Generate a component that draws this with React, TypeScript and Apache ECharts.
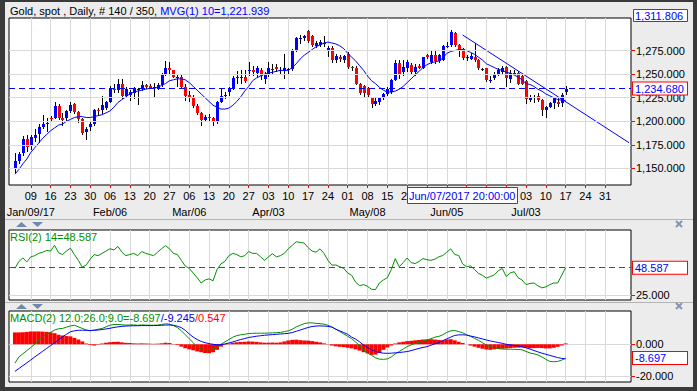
import React, { useEffect, useRef } from 'react';
import * as echarts from 'echarts';

const FONT = '"Liberation Sans", Arial, Helvetica, sans-serif';

// ---- daily gold spot bars (Jan 3 2017 .. Jul 17 2017) ----
const opens = [
  1151, 1158, 1166, 1181, 1174, 1182, 1187, 1194, 1197, 1204,
  1203, 1216, 1204, 1204, 1211, 1218, 1210, 1202, 1189, 1194,
  1197, 1212, 1212, 1214, 1220, 1234, 1233, 1240, 1227, 1228,
  1230, 1234, 1234, 1239, 1237, 1236, 1234, 1238, 1250, 1257,
  1254, 1247, 1247, 1236, 1228, 1226, 1216, 1209, 1201, 1205,
  1203, 1200, 1221, 1227, 1231, 1235, 1246, 1247, 1247, 1254,
  1254, 1251, 1254, 1245, 1249, 1255, 1258, 1254, 1253, 1255,
  1255, 1276, 1288, 1288, 1296, 1290, 1280, 1281, 1282, 1275,
  1278, 1265, 1268, 1265, 1271, 1258, 1257, 1240, 1237, 1235,
  1225, 1218, 1220, 1225, 1229, 1231, 1244, 1262, 1252, 1256,
  1260, 1252, 1259, 1257, 1270, 1263, 1270, 1264, 1265, 1280,
  1281, 1294, 1281, 1277, 1268, 1266, 1268, 1265, 1255, 1256,
  1244, 1246, 1250, 1252, 1258, 1245, 1251, 1251, 1248, 1243,
  1223, 1226, 1227, 1223, 1212, 1215, 1219, 1221, 1219, 1231,
];
const closes = [
  1158, 1165, 1181, 1173, 1183, 1186, 1194, 1197, 1198, 1203,
  1216, 1203, 1201, 1211, 1217, 1210, 1202, 1188, 1192, 1197,
  1212, 1211, 1217, 1220, 1234, 1233, 1240, 1227, 1234, 1231,
  1235, 1234, 1239, 1236, 1235, 1236, 1239, 1250, 1257, 1254,
  1247, 1247, 1236, 1227, 1226, 1216, 1209, 1201, 1205, 1203,
  1199, 1220, 1227, 1228, 1235, 1246, 1247, 1247, 1243, 1254,
  1252, 1256, 1248, 1249, 1256, 1255, 1255, 1254, 1256, 1255,
  1276, 1288, 1288, 1290, 1285, 1281, 1283, 1284, 1283, 1278,
  1265, 1269, 1266, 1269, 1258, 1256, 1240, 1230, 1230, 1228,
  1218, 1222, 1225, 1229, 1234, 1244, 1262, 1250, 1258, 1263,
  1252, 1258, 1257, 1268, 1268, 1270, 1264, 1270, 1280, 1280,
  1295, 1281, 1275, 1267, 1268, 1269, 1265, 1256, 1255, 1244,
  1244, 1250, 1254, 1256, 1246, 1251, 1251, 1240, 1240, 1224,
  1226, 1226, 1223, 1212, 1215, 1219, 1225, 1218, 1228, 1234.68,
];
const lows = [
  1145, 1155, 1163, 1168, 1170, 1178, 1177, 1192, 1189, 1200,
  1202, 1201, 1195, 1200, 1209, 1208, 1198, 1185, 1180, 1190,
  1195, 1206, 1208, 1212, 1219, 1230, 1230, 1224, 1225, 1222,
  1224, 1217, 1232, 1234, 1234, 1226, 1233, 1236, 1248, 1249,
  1246, 1236, 1234, 1222, 1221, 1214, 1207, 1195, 1199, 1200,
  1195, 1197, 1219, 1224, 1227, 1233, 1240, 1240, 1241, 1248,
  1248, 1247, 1244, 1240, 1247, 1250, 1252, 1250, 1245, 1249,
  1253, 1273, 1282, 1285, 1283, 1279, 1278, 1279, 1279, 1268,
  1262, 1262, 1263, 1262, 1255, 1253, 1238, 1228, 1226, 1225,
  1214, 1216, 1217, 1223, 1227, 1229, 1243, 1245, 1248, 1252,
  1250, 1248, 1255, 1255, 1266, 1261, 1261, 1262, 1264, 1278,
  1279, 1279, 1268, 1265, 1264, 1265, 1263, 1254, 1253, 1242,
  1241, 1244, 1248, 1249, 1236, 1241, 1249, 1239, 1239, 1218,
  1220, 1219, 1220, 1206, 1204, 1214, 1213, 1215, 1215, 1228,
];
const highs = [
  1166, 1167, 1184, 1186, 1186, 1192, 1197, 1207, 1203, 1206,
  1220, 1218, 1209, 1212, 1221, 1219, 1211, 1203, 1194, 1199,
  1213, 1214, 1227, 1222, 1237, 1240, 1245, 1245, 1236, 1233,
  1236, 1235, 1243, 1240, 1240, 1241, 1241, 1251, 1264, 1263,
  1252, 1250, 1249, 1240, 1232, 1228, 1218, 1210, 1207, 1208,
  1205, 1222, 1234, 1231, 1236, 1248, 1253, 1254, 1254, 1263,
  1259, 1259, 1257, 1252, 1263, 1261, 1261, 1258, 1271, 1257,
  1277, 1289, 1291, 1292, 1297, 1292, 1285, 1286, 1290, 1280,
  1280, 1271, 1270, 1270, 1273, 1259, 1259, 1241, 1238, 1236,
  1226, 1225, 1226, 1230, 1236, 1245, 1265, 1265, 1265, 1265,
  1262, 1261, 1261, 1268, 1271, 1275, 1275, 1271, 1281, 1284,
  1297, 1295, 1282, 1278, 1270, 1272, 1283, 1266, 1257, 1257,
  1248, 1252, 1256, 1259, 1259, 1254, 1254, 1253, 1250, 1244,
  1228, 1228, 1230, 1224, 1216, 1221, 1226, 1225, 1230, 1237,
];
// MVG(1) 10
const ma10 = [
  1144, 1149, 1155, 1160, 1167, 1172, 1177, 1182, 1186, 1190,
  1193, 1196, 1197, 1200, 1202, 1204, 1205, 1205, 1204, 1204,
  1205, 1206, 1207, 1209, 1211, 1215, 1220, 1223, 1226, 1229,
  1231, 1232, 1233, 1234, 1235, 1235, 1236, 1238, 1240, 1243,
  1244, 1245, 1245, 1244, 1241, 1237, 1233, 1229, 1225, 1221,
  1217, 1215, 1213, 1213, 1214, 1217, 1221, 1226, 1232, 1237,
  1243, 1246, 1248, 1250, 1251, 1252, 1253, 1254, 1254, 1254,
  1257, 1261, 1266, 1270, 1273, 1276, 1279, 1281, 1283, 1284,
  1283, 1282, 1280, 1277, 1272, 1268, 1264, 1259, 1254, 1248,
  1243, 1240, 1236, 1233, 1231, 1231, 1232, 1234, 1237, 1241,
  1245, 1249, 1253, 1257, 1260, 1262, 1263, 1264, 1267, 1272,
  1274, 1275, 1276, 1276, 1275, 1273, 1271, 1268, 1265, 1261,
  1259, 1257, 1255, 1254, 1252, 1251, 1249, 1247, 1244, 1240,
  1239, 1237, 1234, 1232, 1229, 1227, 1225, 1223, 1222.5, 1221.939,
];
// RSI(2) 14
const rsi14 = [
  48, 54, 57, 53.6, 58, 59, 61, 62, 63.5, 63,
  68, 61.5, 60, 63, 65.5, 60, 55, 49, 51, 56,
  60, 59, 61, 63, 65, 64, 67, 62, 59, 60,
  61, 59, 62.6, 61, 60, 59, 62, 65, 67.7, 65,
  61, 60, 55, 50, 48, 44, 40, 35.4, 38, 39,
  37.3, 47, 52, 54, 59, 61, 60, 58, 59, 62.6,
  61, 61, 58, 55, 58, 60.7, 58, 59, 61, 65,
  68, 71, 70.5, 69.9, 66, 63, 62, 64.9, 61, 55,
  50.8, 51, 49.4, 48, 44, 42, 36, 33.1, 34, 32.5,
  30, 29.7, 35.4, 38, 40, 47, 56.5, 49.4, 53, 57,
  53, 52.2, 54, 56.5, 55.5, 55, 56, 58, 59.2, 62,
  64.9, 60, 59.2, 52, 49.4, 50.2, 47, 43.8, 42, 39.6,
  41, 42.4, 46, 48, 41, 44, 45.2, 40, 38, 34,
  35, 35.4, 33, 31.2, 32, 34, 35.4, 35.4, 42, 48.587,
];
// MACD(2) 12;26;9
const macdLine = [
  -11.9, -8, -6, -4, -2, 0, 2.5, 4.5, 6.5, 7.5,
  9, 9.8, 10, 10.8, 11.6, 12, 11, 10, 9, 8.5,
  9, 9.5, 10, 11, 12, 12.5, 12.5, 12.3, 12.1, 12.2,
  12.2, 12, 12.2, 12.1, 12, 12, 12.1, 12.5, 12.9, 12.7,
  11.8, 10.5, 8.5, 6, 3.5, 1, -1.5, -3, -3.5, -3.5,
  -3, -2, 0, 1.5, 3, 4.5, 5.5, 6, 6.3, 6.8,
  6.9, 7, 7, 7, 7.1, 7.2, 7.3, 7.5, 8, 8.5,
  9.5, 11, 12, 13, 13.5, 13.5, 13.2, 13, 12.7, 12,
  11, 9.5, 8, 6.5, 5, 3.5, 1.5, -1, -3.5, -5.5,
  -7, -8.5, -9.4, -9.5, -9.2, -8, -6, -4.6, -3, -1.5,
  -0.4, 0.5, 1.3, 2, 2.7, 3.5, 4.5, 5, 6, 7.5,
  8.5, 8.7, 8, 7.3, 6, 5, 3.75, 2.5, 1, -0.5,
  -1.5, -2.2, -2.7, -3, -3.1, -3.1, -3.2, -3.3, -3.5, -4.5,
  -5.5, -6, -6.7, -8, -9.5, -10.8, -11, -10.8, -10, -8.697,
];
const signalLine = [
  -17.1, -15.3, -13.5, -11.7, -9.9, -8, -6.2, -4.4, -2.6, -0.8,
  1, 2.8, 4.6, 6.3, 7.9, 8.5, 8.8, 8.9, 8.8, 8.7,
  8.8, 9, 9.3, 9.7, 10.1, 10.6, 11, 11.3, 11.5, 11.6,
  11.7, 11.7, 11.8, 11.8, 11.8, 11.8, 11.9, 12, 12.1, 12.2,
  12, 11.4, 10.5, 8.8, 6.5, 4.5, 3, 1.8, 1, 0.4,
  0, -0.3, -0.3, 0.2, 0.8, 1.5, 2.3, 3, 3.6, 4.3,
  4.7, 5.1, 5.4, 5.7, 5.9, 6.1, 6.3, 6.5, 6.7, 6.9,
  7.4, 8.2, 9, 9.8, 10.6, 11.2, 11.5, 11.6, 11.5, 11.3,
  10.8, 9.5, 8.5, 7.4, 6.3, 4.5, 3.3, 1.5, -0.5, -2,
  -3.5, -4.5, -5.2, -5.6, -5.7, -5.6, -5.4, -5.2, -4.9, -4.6,
  -4, -3.3, -2.6, -2, -1.5, -0.6, 0.3, 1.1, 2.3, 3.4,
  4.5, 5.6, 5.9, 6, 5.8, 5.2, 4.7, 4, 3.4, 2.7,
  2.1, 1.6, 1.1, 0.6, 0, -0.4, -0.7, -1.1, -1.5, -2.2,
  -3, -3.9, -4.8, -5.6, -6.3, -7, -7.7, -8.4, -8.9, -9.245,
];
const macdHist = [
  7.5, 7.5, 7.6, 7.8, 8, 8.1, 8.1, 8, 7.8, 7.5,
  7, 6, 5.5, 5.2, 5, 4, 3, 1.8, 0.5, -0.5,
  -0.8, -0.3, 0.5, 1, 1.3, 1.5, 1.6, 1.2, 0.9, 0.8,
  0.6, 0.5, 0.6, 0.5, 0.4, 0.3, 0.4, 0.6, 1, 0.8,
  0.2, -0.5, -1.5, -2.5, -3.2, -3.8, -4.5, -5, -5.5, -5.6,
  -5, -3.5, -1.5, -0.3, 0.5, 1, 1.3, 1.5, 1.6, 1.8,
  1.7, 1.5, 1.2, 1, 1, 1.1, 1, 1.2, 1.8, 2.4,
  2.8, 2.9, 2.6, 2.4, 2.3, 2, 1.6, 1.2, 0.6, -0.2,
  -0.8, -1.3, -1.6, -1.8, -2.2, -2.6, -3.2, -4, -5, -5.8,
  -6.7, -6.5, -5.5, -3.5, -2, -0.8, 0.5, 1.2, 1.6, 2,
  2.2, 2.5, 2.7, 3, 3.1, 3.2, 3, 2.7, 2.5, 3,
  3.2, 2.5, 1.6, 0.8, 0, -0.8, -1.5, -2.2, -2.8, -3.3,
  -3.5, -3.2, -3, -2.8, -2.6, -2.4, -2.2, -2.1, -2, -2.2,
  -2.5, -2.4, -2.3, -2.4, -2.6, -2.6, -2.2, -1.6, -0.8, 0.547,
];

// ---- labels / reference values ----
const FIRST_DAY = '2017-01-03';
const FUTURE_SLOTS = 16;
const HIDDEN_MONDAYS = ['2017-08-07'];
// day numbers covered by the cursor-date box
const COVERED_DAYS = ['2017-05-29', '2017-06-05', '2017-06-12', '2017-06-19', '2017-06-26'];
const monthLabels: Record<string, string> = {
  '2017-01-09': 'Jan/09/17',
  '2017-02-06': 'Feb/06',
  '2017-03-06': 'Mar/06',
  '2017-04-03': 'Apr/03',
  '2017-05-08': 'May/08',
  '2017-06-05': 'Jun/05',
  '2017-07-03': 'Jul/03',
};
const priceTicks = [1150, 1175, 1200, 1225, 1250, 1275];
const rsiTicks = [25];
const macdTicks = [-20, 0];
const lastClose = 1234.68;
const topValue = '1,311.806';
const rsiLast = 48.587;
const macdLast = -8.697;
const trendBars = [113, 155];
const trendPrices = [1291.5, 1177.3];
const cursorLabel = 'Jun/07/2017 20:00:00';

function buildDates(): string[] {
  const out: string[] = [];
  const d = new Date(FIRST_DAY + 'T00:00:00Z');
  while (out.length < closes.length + FUTURE_SLOTS) {
    const wd = d.getUTCDay();
    if (wd !== 0 && wd !== 6) out.push(d.toISOString().slice(0, 10));
    d.setUTCDate(d.getUTCDate() + 1);
  }
  return out;
}
const tradingDates = buildDates();
const categories = ['', ...tradingDates];

const isMarked = (idx: number) => {
  const v = categories[idx];
  if (!v || HIDDEN_MONDAYS.includes(v)) return false;
  return new Date(v + 'T00:00:00Z').getUTCDay() === 1;
};
const isDayLabelled = (idx: number) => isMarked(idx) && !COVERED_DAYS.includes(categories[idx]);
const isMonthLabelled = (idx: number) => !!monthLabels[categories[idx]];
const fmt3 = (v: number) =>
  Number(v).toLocaleString('en-US', { minimumFractionDigits: 3, maximumFractionDigits: 3 });
const pad = (arr: number[]) => ['-', ...arr, ...Array(FUTURE_SLOTS).fill('-')];

const GRID_L = 9;
const GRID_R = 66;
const GRID_LINE = '#d9d9d9';
const GREEN = '#009000';
const BLUE = '#0000ff';
const RED = '#ff0000';

const boxLabel = (text: string) => ({
  show: true,
  position: 'end',
  distance: 2,
  formatter: () => text,
  color: BLUE,
  fontSize: 11,
  fontFamily: FONT,
  backgroundColor: '#ffffff',
  borderColor: RED,
  borderWidth: 1,
  padding: [1, 2, 0, 2],
  width: 50,
  lineHeight: 11,
});

const gridMark = (v: number) => ({
  yAxis: v,
  lineStyle: { color: GRID_LINE, width: 1, type: 'solid' },
  label: { show: false },
});

const labelBase = { color: '#000', fontSize: 11, fontFamily: FONT, lineHeight: 16 };

function makeXAxis(g: number) {
  return {
    type: 'category',
    gridIndex: g,
    data: categories,
    boundaryGap: true,
    axisLine: { show: false },
    axisTick: {
      show: g === 0,
      interval: (i: number) => isMarked(i),
      alignWithLabel: true,
      length: 3,
      lineStyle: { color: RED },
    },
    axisLabel: {
      ...labelBase,
      show: g === 0,
      interval: (i: number) => isDayLabelled(i),
      showMinLabel: true,
      showMaxLabel: true,
      formatter: (v: string) => v.slice(8, 10),
      margin: 3,
    },
    splitLine: {
      show: true,
      interval: (i: number) => isMarked(i),
      alignWithLabel: true,
      lineStyle: { color: GRID_LINE, width: 1 },
    },
  };
}

// second row of date labels (month markers) on the price panel
const monthAxis = {
  type: 'category',
  gridIndex: 0,
  position: 'bottom',
  data: categories,
  boundaryGap: true,
  axisLine: { show: false },
  axisTick: { show: false },
  splitLine: { show: false },
  axisLabel: {
    ...labelBase,
    interval: (i: number) => isMonthLabelled(i),
    showMinLabel: true,
    showMaxLabel: true,
    formatter: (v: string) => monthLabels[v] || '',
    margin: 19,
  },
};

function makeYAxis(g: number, min: number, max: number, step: number, ticks: number[], grid = true) {
  return {
    type: 'value',
    gridIndex: g,
    position: 'right',
    min,
    max,
    minInterval: step,
    maxInterval: step,
    axisLine: { show: false },
    axisTick: { show: true, length: 4, lineStyle: { color: RED }, customValues: ticks },
    axisLabel: {
      customValues: ticks,
      formatter: (v: number) => (ticks.includes(v) ? fmt3(v) : ''),
      color: '#000',
      fontSize: 11,
      fontFamily: FONT,
      margin: 5,
    },
    splitLine: { show: grid, lineStyle: { color: GRID_LINE, width: 1 } },
  };
}

function renderCandle(params: any, api: any) {
  const j = api.value(0);
  const o = api.value(1);
  const c = api.value(2);
  const l = api.value(3);
  const h = api.value(4);
  const pO = api.coord([j, o]);
  const pC = api.coord([j, c]);
  const pL = api.coord([j, l]);
  const pH = api.coord([j, h]);
  const x = Math.round(pO[0]);
  const top = Math.round(Math.min(pO[1], pC[1]));
  const bot = Math.round(Math.max(pO[1], pC[1]));
  const color = c >= o ? BLUE : RED;
  return {
    type: 'group',
    children: [
      {
        type: 'line',
        shape: { x1: x + 0.5, y1: Math.round(pH[1]), x2: x + 0.5, y2: Math.round(pL[1]) },
        style: { stroke: '#000', lineWidth: 1 },
      },
      {
        type: 'rect',
        shape: { x: x - 1, y: top, width: 3, height: Math.max(1, bot - top) },
        style: { fill: color },
      },
    ],
  };
}

function triangles(y: number) {
  return [
    { type: 'polygon', shape: { points: [[16, y + 5], [21.5, y], [27, y + 5]] }, style: { fill: '#7189ad' }, z: 60 },
    { type: 'polygon', shape: { points: [[32, y], [43, y], [37.5, y + 5]] }, style: { fill: '#7189ad' }, z: 60 },
  ];
}
function closeIcon(cx: number, cy: number) {
  return [
    { type: 'line', shape: { x1: cx - 3, y1: cy - 3, x2: cx + 3, y2: cy + 3 }, style: { stroke: '#8495b6', lineWidth: 2 }, z: 60 },
    { type: 'line', shape: { x1: cx - 3, y1: cy + 3, x2: cx + 3, y2: cy - 3 }, style: { stroke: '#8495b6', lineWidth: 2 }, z: 60 },
  ];
}

export default function App() {
  const ref = useRef<HTMLDivElement>(null);
  useEffect(() => {
    if (!ref.current) return;
    const chart = echarts.init(ref.current, undefined, { renderer: 'svg' });
    const candleData = closes.map((c, i) => [i + 1, opens[i], c, lows[i], highs[i]]);
    const option: any = {
      animation: false,
      backgroundColor: '#ececec',
      textStyle: { fontFamily: FONT },
      grid: [
        { left: GRID_L, right: GRID_R, top: 18, height: 167, show: true, backgroundColor: '#fff', borderColor: '#000', borderWidth: 1 },
        { left: GRID_L, right: GRID_R, top: 230, height: 70, show: true, backgroundColor: '#fff', borderColor: '#000', borderWidth: 1 },
        { left: GRID_L, right: GRID_R, top: 311, height: 71, show: true, backgroundColor: '#fff', borderColor: '#000', borderWidth: 1 },
      ],
      // 0: price days, 1: price month markers, 2: RSI, 3: MACD
      xAxis: [makeXAxis(0), monthAxis, makeXAxis(1), makeXAxis(2)],
      yAxis: [
        makeYAxis(0, 1132.5, 1309.5, 25, priceTicks, false),
        makeYAxis(1, 20.7, 81.2, 25, rsiTicks, false),
        makeYAxis(2, -23.8, 21, 20, macdTicks),
      ],
      series: [
        {
          // horizontal price grid lines at the labelled levels only
          type: 'line',
          name: 'priceGrid',
          xAxisIndex: 0,
          yAxisIndex: 0,
          data: categories.map(() => '-'),
          showSymbol: false,
          silent: true,
          z: 1,
          markLine: {
            silent: true,
            symbol: ['none', 'none'],
            data: priceTicks.map(gridMark),
          },
        },
        {
          type: 'custom',
          name: 'Gold',
          xAxisIndex: 0,
          yAxisIndex: 0,
          data: candleData,
          encode: { x: 0, y: [1, 2, 3, 4] },
          renderItem: renderCandle,
          z: 2,
          silent: true,
        },
        {
          type: 'line',
          name: 'MVG 10',
          xAxisIndex: 0,
          yAxisIndex: 0,
          data: pad(ma10),
          showSymbol: false,
          lineStyle: { color: BLUE, width: 1 },
          z: 3,
          silent: true,
          markLine: {
            silent: true,
            symbol: ['none', 'none'],
            lineStyle: { color: BLUE, width: 1, type: [6, 4] },
            label: boxLabel(fmt3(lastClose)),
            data: [{ yAxis: lastClose }],
          },
        },
        {
          type: 'line',
          name: 'trend',
          xAxisIndex: 0,
          yAxisIndex: 0,
          data: trendBars.map((b, k) => [b + 1, trendPrices[k]]),
          showSymbol: false,
          lineStyle: { color: BLUE, width: 1 },
          z: 3,
          silent: true,
        },
        {
          type: 'line',
          name: 'RSI',
          xAxisIndex: 2,
          yAxisIndex: 1,
          data: pad(rsi14),
          showSymbol: false,
          lineStyle: { color: GREEN, width: 1 },
          silent: true,
          z: 4,
          markLine: {
            silent: true,
            symbol: ['none', 'none'],
            data: [
              gridMark(rsiTicks[0]),
              {
                yAxis: rsiLast,
                lineStyle: { color: RED, width: 1, type: [6, 4] },
                label: boxLabel(fmt3(rsiLast)),
              },
            ],
          },
        },
        {
          type: 'bar',
          name: 'hist',
          xAxisIndex: 3,
          yAxisIndex: 2,
          data: pad(macdHist),
          barWidth: '100%',
          itemStyle: { color: RED },
          silent: true,
        },
        {
          type: 'line',
          name: 'MACD',
          xAxisIndex: 3,
          yAxisIndex: 2,
          data: pad(macdLine),
          showSymbol: false,
          lineStyle: { color: GREEN, width: 1 },
          silent: true,
          z: 4,
          markLine: {
            silent: true,
            symbol: ['none', 'none'],
            lineStyle: { color: 'transparent', width: 1 },
            label: boxLabel(fmt3(macdLast)),
            data: [{ yAxis: macdLast }],
          },
        },
        {
          type: 'line',
          name: 'signal',
          xAxisIndex: 3,
          yAxisIndex: 2,
          data: pad(signalLine),
          showSymbol: false,
          lineStyle: { color: BLUE, width: 1 },
          silent: true,
          z: 4,
        },
      ],
      graphic: [
        { type: 'rect', shape: { x: 0, y: 0, width: 5, height: 391 }, style: { fill: '#3a3a3a' }, z: 50 },
        { type: 'rect', shape: { x: 0, y: 0, width: 697, height: 2 }, style: { fill: '#3a3a3a' }, z: 50 },
        { type: 'rect', shape: { x: 693, y: 0, width: 4, height: 391 }, style: { fill: '#3a3a3a' }, z: 50 },
        { type: 'rect', shape: { x: 0, y: 387, width: 697, height: 4 }, style: { fill: '#3a3a3a' }, z: 50 },
        {
          type: 'text',
          x: 10,
          y: 11,
          z: 60,
          style: {
            text: '{a|Gold, spot , Daily, # 140 / 350, }{b|MVG(1) 10=1,221.939}',
            verticalAlign: 'middle',
            font: '11px ' + FONT,
            rich: {
              a: { fill: '#000', fontSize: 11, fontFamily: FONT },
              b: { fill: BLUE, fontSize: 11, fontFamily: FONT },
            },
          },
        },
        {
          type: 'text',
          x: 10,
          y: 237,
          z: 60,
          style: { text: 'RSI(2) 14=48.587', fill: GREEN, font: '11px ' + FONT, verticalAlign: 'middle' },
        },
        {
          type: 'text',
          x: 10,
          y: 318,
          z: 60,
          style: {
            text: '{g|MACD(2) 12.0;26.0;9.0=-8.697}{b|/-9.245}{r|/0.547}',
            verticalAlign: 'middle',
            font: '11px ' + FONT,
            rich: {
              g: { fill: GREEN, fontSize: 11, fontFamily: FONT },
              b: { fill: BLUE, fontSize: 11, fontFamily: FONT },
              r: { fill: RED, fontSize: 11, fontFamily: FONT },
            },
          },
        },
        { type: 'rect', shape: { x: 633.5, y: 9.5, width: 54, height: 12 }, style: { fill: '#fff', stroke: RED, lineWidth: 1 }, z: 60 },
        { type: 'text', x: 635, y: 16, z: 61, style: { text: topValue, fill: BLUE, font: '11px ' + FONT, verticalAlign: 'middle' } },
        { type: 'rect', shape: { x: 407.5, y: 187.5, width: 110, height: 16 }, style: { fill: '#fff', stroke: RED, lineWidth: 1 }, z: 60 },
        { type: 'text', x: 409, y: 196, z: 61, style: { text: cursorLabel, fill: BLUE, font: '11px ' + FONT, verticalAlign: 'middle' } },
        { type: 'line', shape: { x1: 5, y1: 219.5, x2: 693, y2: 219.5 }, style: { stroke: '#b4b4b4', lineWidth: 1 }, z: 55 },
        { type: 'line', shape: { x1: 5, y1: 302.5, x2: 693, y2: 302.5 }, style: { stroke: '#b4b4b4', lineWidth: 1 }, z: 55 },
        ...triangles(222),
        ...triangles(304),
        ...closeIcon(679, 224),
        ...closeIcon(679, 306),
      ],
    };
    chart.setOption(option);
    return () => chart.dispose();
  }, []);
  return (
    <div
      ref={ref}
      style={{ position: 'absolute', left: 0, top: 0, width: 697, height: 391 }}
    />
  );
}
